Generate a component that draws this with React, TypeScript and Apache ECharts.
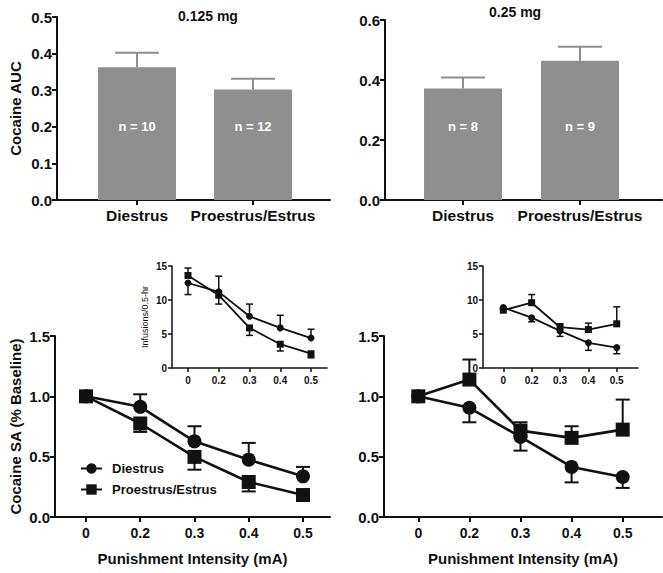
import React, { useEffect, useRef } from "react";
import * as echarts from "echarts";

// ---------- data ----------
const barCategories = ["Diestrus", "Proestrus/Estrus"];
const lowDoseAUC = [0.363, 0.302];
const lowDoseAUCSem = [0.039, 0.029];
const lowDoseN = ["n = 10", "n = 12"];
const highDoseAUC = [0.372, 0.464];
const highDoseAUCSem = [0.036, 0.047];
const highDoseN = ["n = 8", "n = 9"];

const intensityLabels = ["0", "0.2", "0.3", "0.4", "0.5"];

// main panels (% baseline); errors signed: + drawn up, - drawn down
const lowDiestrus = [1.0, 0.913, 0.627, 0.475, 0.337];
const lowDiestrusErr = [0, 0.104, 0.125, 0.139, 0.078];
const lowProestrus = [1.0, 0.775, 0.498, 0.29, 0.182];
const lowProestrusErr = [0, -0.07, -0.106, -0.078, -0.03];

const highDiestrus = [1.0, 0.905, 0.664, 0.415, 0.332];
const highDiestrusErr = [0, -0.12, -0.114, -0.128, -0.091];
const highProestrus = [1.0, 1.139, 0.716, 0.656, 0.724];
const highProestrusErr = [0, 0.166, 0.069, 0.096, 0.249];

// insets (infusions / 0.5 hr)
const lowInsetDiestrus = [12.5, 11.2, 7.6, 5.9, 4.4];
const lowInsetDiestrusErr = [-1.7, 2.3, 1.8, 1.85, 1.3];
const lowInsetProestrus = [13.6, 10.7, 5.9, 3.5, 2.1];
const lowInsetProestrusErr = [1.1, -1.3, -1.1, -1.0, -0.6];

const highInsetDiestrus = [8.9, 7.4, 5.45, 3.7, 3.0];
const highInsetDiestrusErr = [-0.3, -0.6, -0.8, -1.1, -0.9];
const highInsetProestrus = [8.5, 9.6, 6.0, 5.65, 6.5];
const highInsetProestrusErr = [0.3, 1.2, 0.5, 0.95, 2.5];

// ---------- styling ----------
const FONT = "'Liberation Sans', Arial, Helvetica, sans-serif";
const BAR_COLOR = "#8f8f8f";
const INK = "#111111";

function errSeries(
  xi: number,
  values: number[],
  errs: number[],
  capHalf: number,
  color: string,
  lw: number,
  z: number
) {
  return {
    type: "custom",
    xAxisIndex: xi,
    yAxisIndex: xi,
    z,
    silent: true,
    data: values.map((v, i) => [i, v, errs[i]]),
    renderItem: (params: any, api: any) => {
      const x = api.value(0);
      const y = api.value(1);
      const e = api.value(2);
      if (!e) return null;
      const p0 = api.coord([x, y]);
      const p1 = api.coord([x, y + e]);
      const st = { stroke: color, lineWidth: lw };
      return {
        type: "group",
        children: [
          { type: "line", shape: { x1: p0[0], y1: p0[1], x2: p1[0], y2: p1[1] }, style: st },
          { type: "line", shape: { x1: p1[0] - capHalf, y1: p1[1], x2: p1[0] + capHalf, y2: p1[1] }, style: st },
        ],
      };
    },
  };
}

function lineSeries(name: string, xi: number, values: number[], symbol: string, size: number, lw: number) {
  return {
    type: "line",
    name,
    xAxisIndex: xi,
    yAxisIndex: xi,
    z: 5,
    data: values.map((v, i) => [i, v]),
    symbol,
    symbolSize: size,
    showSymbol: true,
    lineStyle: { color: INK, width: lw },
    itemStyle: { color: INK, borderWidth: 0 },
  };
}

function xAxisDef(grid: number, min: number, max: number, labels: string[], fontSize: number, tickLen: number, lw: number, margin: number, name?: string) {
  const vals = labels.map((_, i) => i);
  return {
    type: "value",
    gridIndex: grid,
    min,
    max,
    splitLine: { show: false },
    axisLine: { onZero: false, lineStyle: { color: INK, width: lw } },
    axisTick: { show: true, customValues: vals, length: tickLen, lineStyle: { color: INK, width: lw } },
    axisLabel: {
      customValues: vals,
      formatter: (v: number) => labels[Math.round(v)] ?? "",
      color: INK,
      fontFamily: FONT,
      fontWeight: "bold",
      fontSize,
      margin,
    },
    name: name || "",
    nameLocation: "middle",
    nameGap: 34,
    nameTextStyle: { color: INK, fontFamily: FONT, fontWeight: "bold", fontSize: 15 },
  };
}

function yAxisDef(grid: number, max: number, interval: number, decimals: number, fontSize: number, tickLen: number, lw: number, name?: string, nameGap?: number, nameStyle?: any) {
  return {
    type: "value",
    gridIndex: grid,
    min: 0,
    max,
    interval,
    splitLine: { show: false },
    axisLine: { show: true, onZero: false, lineStyle: { color: INK, width: lw } },
    axisTick: { show: true, length: tickLen, lineStyle: { color: INK, width: lw } },
    axisLabel: {
      formatter: (v: number) => v.toFixed(decimals),
      color: INK,
      fontFamily: FONT,
      fontWeight: "bold",
      fontSize,
      margin: 5,
    },
    name: name || "",
    nameLocation: "middle",
    nameRotate: 90,
    nameGap: nameGap ?? 30,
    nameTextStyle: nameStyle || { color: INK, fontFamily: FONT, fontWeight: "bold", fontSize: 15 },
  };
}

function barSeries(xi: number, values: number[], nLabels: string[]) {
  return {
    type: "bar",
    xAxisIndex: xi,
    yAxisIndex: xi,
    barWidth: 78,
    z: 2,
    data: values.map((v, i) => [i, v]),
    itemStyle: { color: BAR_COLOR },
    label: {
      show: true,
      position: "insideBottom",
      distance: 67,
      formatter: (p: any) => nLabels[p.dataIndex],
      color: "#ffffff",
      fontFamily: FONT,
      fontWeight: "bold",
      fontSize: 13,
    },
  };
}

export default function App() {
  const ref = useRef<HTMLDivElement>(null);

  useEffect(() => {
    document.body.style.margin = "0";
    if (!ref.current) return;
    const chart = echarts.init(ref.current, undefined, { renderer: "svg" });

    const option: any = {
      animation: false,
      backgroundColor: "#ffffff",
      grid: [
        { left: 57, top: 17, width: 273, height: 183 },
        { left: 385, top: 20, width: 277, height: 180 },
        { left: 55, top: 336, width: 275, height: 181 },
        { left: 384, top: 336, width: 278, height: 181 },
        { left: 172, top: 266, width: 155, height: 102 },
        { left: 483, top: 266, width: 155, height: 102 },
      ],
      xAxis: [
        xAxisDef(0, -0.69, 1.664, barCategories, 15.5, 5, 2, 7),
        xAxisDef(1, -0.667, 1.701, barCategories, 15.5, 5, 2, 7),
        xAxisDef(2, -0.571, 4.498, intensityLabels, 14, 5, 2, 9, "Punishment Intensity (mA)"),
        xAxisDef(3, -0.671, 4.769, intensityLabels, 14, 5, 2, 9, "Punishment Intensity (mA)"),
        xAxisDef(4, -0.52, 4.52, intensityLabels, 10, 4, 1.5, 7),
        xAxisDef(5, -0.716, 4.75, intensityLabels, 10, 4, 1.5, 7),
      ],
      yAxis: [
        yAxisDef(0, 0.5, 0.1, 1, 15, 5, 2, "Cocaine AUC", 34),
        yAxisDef(1, 0.6, 0.2, 1, 15, 5, 2),
        yAxisDef(2, 1.5, 0.5, 1, 15, 5, 2, "Cocaine SA (% Baseline)", 32),
        yAxisDef(3, 1.5, 0.5, 1, 15, 5, 2),
        yAxisDef(4, 15, 5, 0, 10, 4, 1.5, "Infusions/0.5-hr", 23, { color: INK, fontFamily: FONT, fontSize: 9 }),
        yAxisDef(5, 15, 5, 0, 10, 4, 1.5),
      ],
      legend: {
        data: ["Diestrus", "Proestrus/Estrus"],
        orient: "vertical",
        left: 75,
        top: 457,
        itemWidth: 21,
        itemHeight: 13,
        itemGap: 8,
        selectedMode: false,
        textStyle: { color: INK, fontFamily: FONT, fontWeight: "bold", fontSize: 13, padding: [0, 0, 0, 5] },
      },
      graphic: [
        {
          type: "text",
          left: 178,
          top: 9,
          style: { text: "0.125 mg", fill: INK, font: `bold 14px ${FONT}` },
        },
        {
          type: "text",
          left: 489,
          top: 5,
          style: { text: "0.25 mg", fill: INK, font: `bold 14px ${FONT}` },
        },
      ],
      series: [
        barSeries(0, lowDoseAUC, lowDoseN),
        errSeries(0, lowDoseAUC, lowDoseAUCSem, 22, BAR_COLOR, 2, 1),
        barSeries(1, highDoseAUC, highDoseN),
        errSeries(1, highDoseAUC, highDoseAUCSem, 22, BAR_COLOR, 2, 1),

        errSeries(2, lowDiestrus, lowDiestrusErr, 7, INK, 2, 3),
        errSeries(2, lowProestrus, lowProestrusErr, 7, INK, 2, 3),
        lineSeries("Diestrus", 2, lowDiestrus, "circle", 14, 2.6),
        lineSeries("Proestrus/Estrus", 2, lowProestrus, "rect", 14, 2.6),

        errSeries(3, highDiestrus, highDiestrusErr, 7, INK, 2, 3),
        errSeries(3, highProestrus, highProestrusErr, 7, INK, 2, 3),
        lineSeries("Diestrus (0.25 mg)", 3, highDiestrus, "circle", 14, 2.6),
        lineSeries("Proestrus/Estrus (0.25 mg)", 3, highProestrus, "rect", 14, 2.6),

        errSeries(4, lowInsetDiestrus, lowInsetDiestrusErr, 3.5, INK, 1.5, 3),
        errSeries(4, lowInsetProestrus, lowInsetProestrusErr, 3.5, INK, 1.5, 3),
        lineSeries("Diestrus (inset 0.125)", 4, lowInsetDiestrus, "circle", 7, 1.8),
        lineSeries("Proestrus/Estrus (inset 0.125)", 4, lowInsetProestrus, "rect", 7, 1.8),

        errSeries(5, highInsetDiestrus, highInsetDiestrusErr, 3.5, INK, 1.5, 3),
        errSeries(5, highInsetProestrus, highInsetProestrusErr, 3.5, INK, 1.5, 3),
        lineSeries("Diestrus (inset 0.25)", 5, highInsetDiestrus, "circle", 7, 1.8),
        lineSeries("Proestrus/Estrus (inset 0.25)", 5, highInsetProestrus, "rect", 7, 1.8),
      ],
    };

    chart.setOption(option);
    return () => chart.dispose();
  }, []);

  return <div ref={ref} style={{ width: 663, height: 573 }} />;
}
